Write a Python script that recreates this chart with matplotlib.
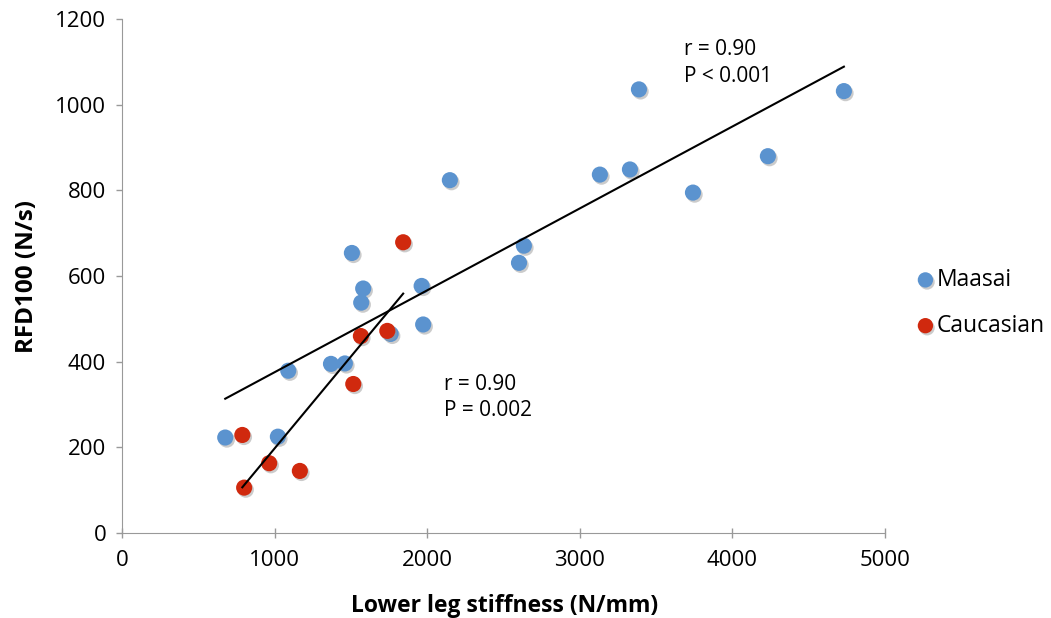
import numpy as np
import matplotlib
matplotlib.use("Agg")
from matplotlib import pyplot as plt
import matplotlib.patheffects as pe

plt.rcParams['font.family'] = ['Open Sans', 'DejaVu Sans']

# Maasai: lower leg stiffness (N/mm) vs RFD100 (N/s)
maasai_x = [677, 1022, 1090, 1370, 1461, 1507, 1568, 1581, 1761, 1964,
            1974, 2149, 2602, 2634, 3132, 3329, 3388, 3742, 4233, 4731]
maasai_y = [223, 225, 379, 395, 396, 654, 538, 571, 465, 577,
            487, 824, 631, 671, 837, 849, 1036, 795, 880, 1032]

# Caucasian
cauc_x = [789, 801, 965, 1166, 1516, 1566, 1739, 1843]
cauc_y = [229, 106, 163, 145, 348, 460, 472, 679]

x_ticks = [0, 1000, 2000, 3000, 4000, 5000]
y_ticks = [0, 200, 400, 600, 800, 1000, 1200]

blue = '#5B93CF'
red = '#D0290E'

fig = plt.figure(figsize=(10.51, 6.18), dpi=100)
ax = fig.add_axes([0.116, 0.1375, 0.726, 0.8315])

shadow = [pe.SimplePatchShadow(offset=(1.2, -1.5), shadow_rgbFace='#999999', alpha=0.5), pe.Normal()]

ax.scatter(maasai_x, maasai_y, s=135, color=blue, edgecolors='none',
           label='Maasai', zorder=3, path_effects=shadow)
ax.scatter(cauc_x, cauc_y, s=135, color=red, edgecolors='none',
           label='Caucasian', zorder=4, path_effects=shadow)

# least-squares trend lines over each group's range
for xs, ys in [(maasai_x, maasai_y), (cauc_x, cauc_y)]:
    k, b = np.polyfit(xs, ys, 1)
    xx = np.array([min(xs), max(xs)])
    ax.plot(xx, k * xx + b, color='black', lw=1.5, zorder=5)

ax.text(3683, 1128, 'r = 0.90', fontsize=15, va='center', ha='left')
ax.text(3683, 1065, 'P < 0.001', fontsize=15, va='center', ha='left')
ax.text(2110, 346, 'r = 0.90', fontsize=15, va='center', ha='left')
ax.text(2110, 285, 'P = 0.002', fontsize=15, va='center', ha='left')

ax.set_xlim(0, 5000)
ax.set_ylim(0, 1200)
ax.set_xticks(x_ticks)
ax.set_yticks(y_ticks)
ax.tick_params(labelsize=16, color='#999999', width=1)
ax.tick_params(axis='y', length=4.3, pad=7)
ax.tick_params(axis='x', direction='inout', length=7, pad=9)
for s in ['top', 'right']:
    ax.spines[s].set_visible(False)
for s in ['left', 'bottom']:
    ax.spines[s].set_color('#999999')

ax.set_xlabel('Lower leg stiffness (N/mm)', fontsize=16.5, fontweight='bold', va='center')
ax.set_ylabel('RFD100 (N/s)', fontsize=17.5, fontweight='bold', va='center')
ax.xaxis.set_label_coords(0.501, -0.142)
ax.yaxis.set_label_coords(-0.124, 0.5)

ax.legend(loc='center left', bbox_to_anchor=(1.026, 0.448), frameon=False,
          fontsize=16.5, handlelength=1.0, handletextpad=0.0, labelspacing=0.95,
          markerscale=0.95, borderaxespad=0)

fig.savefig('out.png', dpi=100)
